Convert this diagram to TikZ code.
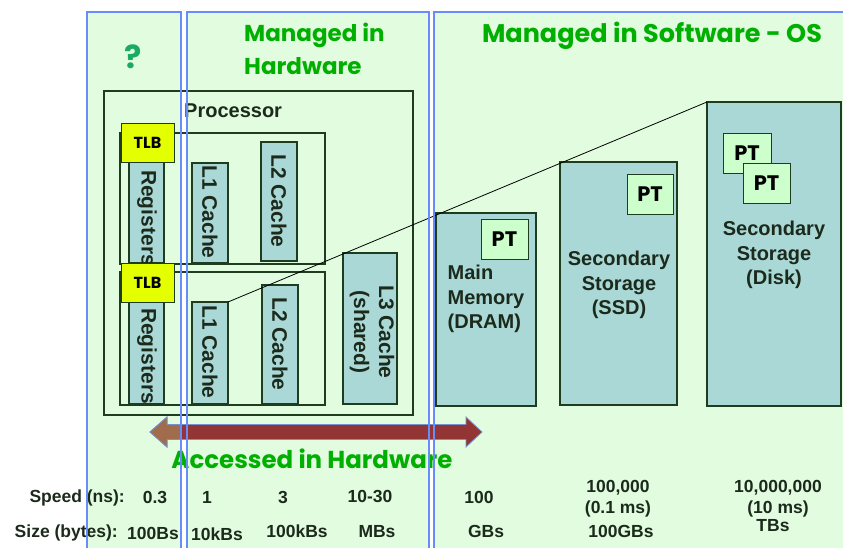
\documentclass[tikz,border=0pt]{standalone}
\usepackage{fontspec}
\setmainfont{Liberation Sans}
\newfontfamily\comic{Poppins}
\definecolor{panelbg}{RGB}{226,252,224}
\definecolor{panelline}{RGB}{105,140,250}
\definecolor{boxline}{RGB}{30,60,30}
\definecolor{boxfill}{RGB}{170,216,214}
\definecolor{tlbyellow}{RGB}{228,255,0}
\definecolor{ptgreen}{RGB}{204,255,204}
\definecolor{titlegreen}{RGB}{0,175,0}
\definecolor{qgreen}{RGB}{25,170,100}
\definecolor{textdark}{RGB}{28,42,28}
\definecolor{arrowred}{RGB}{147,53,53}
\definecolor{arrowbrown}{RGB}{160,108,76}
\definecolor{arrowline}{RGB}{120,145,200}
\tikzset{
  panel/.style={fill=panelbg, draw=none, anchor=north west, minimum height=560, inner sep=0, outer sep=0},
  pframe/.style={draw=panelline, line width=1.3pt},
  frame/.style={draw=boxline, line width=2pt, fill=none, inner sep=0, outer sep=0},
  cbox/.style={draw=boxline, line width=2pt, fill=boxfill, inner sep=0, outer sep=0},
  tlbbox/.style={draw=boxline, line width=1pt, fill=tlbyellow, inner sep=0, text=black, font=\comic\bfseries\fontsize{16}{16}\selectfont},
  ptbox/.style={draw=boxline, line width=1pt, fill=ptgreen, inner sep=0, text=black, font=\comic\bfseries\fontsize{21}{21}\selectfont},
  vlabel/.style={rotate=-90, inner sep=0, font=\bfseries\fontsize{21}{25}\selectfont, text=textdark, align=center},
  blabel/.style={inner sep=0, font=\bfseries\fontsize{20}{24.5}\selectfont, text=textdark},
  title/.style={inner sep=0, text=titlegreen, font=\comic\bfseries\fontsize{23}{33}\selectfont},
  num/.style={inner sep=0, font=\bfseries\fontsize{17.5}{21}\selectfont, text=textdark, align=center},
}
\begin{document}
\begin{tikzpicture}[x=1pt,y=-1pt]
\useasboundingbox (0,0) rectangle (843,547);
\clip (0,0) rectangle (843,547);
% panels
\node[panel, minimum width=94] (p1) at (87,12) {};
\node[panel, minimum width=242] (p2) at (187,12) {};
\node[panel, minimum width=420] (p3) at (434,12) {};
% titles
\node[title, text=qgreen, font=\comic\bfseries\fontsize{32}{32}\selectfont] (q) at (133,57) {?};
\node[title, align=left, anchor=north west] (mh) at (244,23) {Managed in\\Hardware};
\node[title, font=\comic\bfseries\fontsize{25.5}{30}\selectfont] (ms) at (652,36) {Managed in Software - OS};
% processor
\node[frame, minimum width=309, minimum height=324] (proc) at (258.5,253) {};
\node[blabel, anchor=west] (proct) at (184,111) {Processor};
\node[frame, minimum width=205, minimum height=131] (coreT) at (222.5,198.5) {};
\node[frame, minimum width=205, minimum height=133] (coreB) at (222.5,338.5) {};
\node[cbox, minimum width=35, minimum height=113] (regT) at (146.5,206.5) {};
\node[cbox, minimum width=35, minimum height=109] (regB) at (146.5,349.5) {};
\node[vlabel] (regTt) at (147,218) {Registers};
\node[vlabel] (regBt) at (147,356) {Registers};
\node[tlbbox, minimum width=53, minimum height=39] (tlbT) at (147.5,142.5) {TLB};
\node[tlbbox, minimum width=53, minimum height=39] (tlbB) at (147.5,282.5) {TLB};
\node[cbox, minimum width=36, minimum height=100] (l1T) at (210,213) {};
\node[cbox, minimum width=36, minimum height=102] (l1B) at (210,353) {};
\node[cbox, minimum width=36, minimum height=119] (l2T) at (279,201.5) {};
\node[cbox, minimum width=36, minimum height=119] (l2B) at (280,344.5) {};
\node[cbox, minimum width=54, minimum height=151] (l3) at (370,328.5) {};
\node[vlabel] (l1Tt) at (210,212) {L1 Cache};
\node[vlabel] (l1Bt) at (210,352) {L1 Cache};
\node[vlabel] (l2Tt) at (279,201) {L2 Cache};
\node[vlabel] (l2Bt) at (280,344) {L2 Cache};
\node[vlabel] (l3t) at (372,332) {L3 Cache\\(shared)};
% memory side
\node[cbox, minimum width=100, minimum height=193] (mem) at (486,309.5) {};
\node[ptbox, minimum width=47, minimum height=40] (ptm) at (504.5,239) {PT};
\node[blabel, align=left] (memt) at (486,299) {Main\\Memory\\(DRAM)};
\node[cbox, minimum width=117, minimum height=243] (ssd) at (618.5,283.5) {};
\node[ptbox, minimum width=46, minimum height=40] (pts) at (650,194) {PT};
\node[blabel, align=center] (ssdt) at (619,285) {Secondary\\Storage\\(SSD)};
\node[cbox, minimum width=134, minimum height=304] (disk) at (774,254) {};
\node[ptbox, minimum width=48, minimum height=40] (ptd1) at (747,153) {PT};
\node[ptbox, minimum width=47, minimum height=40] (ptd2) at (766.5,183) {PT};
\node[blabel, align=center] (diskt) at (774,255) {Secondary\\Storage\\(Disk)};
% connector
\draw[black, line width=0.8pt] (l1B.north east) -- (disk.north west);
% double arrow
\path[fill=arrowred, draw=arrowline, line width=0.8pt]
  (150,432) -- (167,417) -- (167,424.5) -- (466,424.5) -- (466,417) -- (482,432)
  -- (466,447) -- (466,439.5) -- (167,439.5) -- (167,447) -- cycle;
\begin{scope}
\clip (140,400) rectangle (181,460);
\path[fill=arrowbrown, draw=arrowline, line width=0.8pt]
  (150,432) -- (167,417) -- (167,424.5) -- (466,424.5) -- (466,417) -- (482,432)
  -- (466,447) -- (466,439.5) -- (167,439.5) -- (167,447) -- cycle;
\end{scope}
\node[title, font=\comic\bfseries\fontsize{24.5}{30}\selectfont] (acc) at (312,459) {Accessed in Hardware};
% bottom rows
\node[num, anchor=east] (speed) at (125,498) {Speed (ns):};
\node[num] (s1) at (155,497) {0.3};
\node[num] (s2) at (207,497) {1};
\node[num] (s3) at (283,497) {3};
\node[num] (s4) at (370,496) {10-30};
\node[num] (s5) at (479,497) {100};
\node[num] (s6) at (618,498.5) {100,000\\(0.1 ms)};
\node[num] (s7) at (778,498.5) {10,000,000\\(10 ms)};
\node[num, anchor=east] (size) at (118,533) {Size (bytes):};
\node[num] (z1) at (153,533) {100Bs};
\node[num] (z2) at (217,534) {10kBs};
\node[num] (z3) at (297,531) {100kBs};
\node[num] (z4) at (377,532) {MBs};
\node[num] (z5) at (486,531) {GBs};
\node[num] (z6) at (621,531) {100GBs};
\node[num] (z7) at (773,526) {TBs};
% panel outlines on top
\draw[pframe] (p1.north west) rectangle (p1.south east);
\draw[pframe] (p2.north west) rectangle (p2.south east);
\draw[pframe] (p3.north west) rectangle (p3.south east);
\end{tikzpicture}
\end{document}
